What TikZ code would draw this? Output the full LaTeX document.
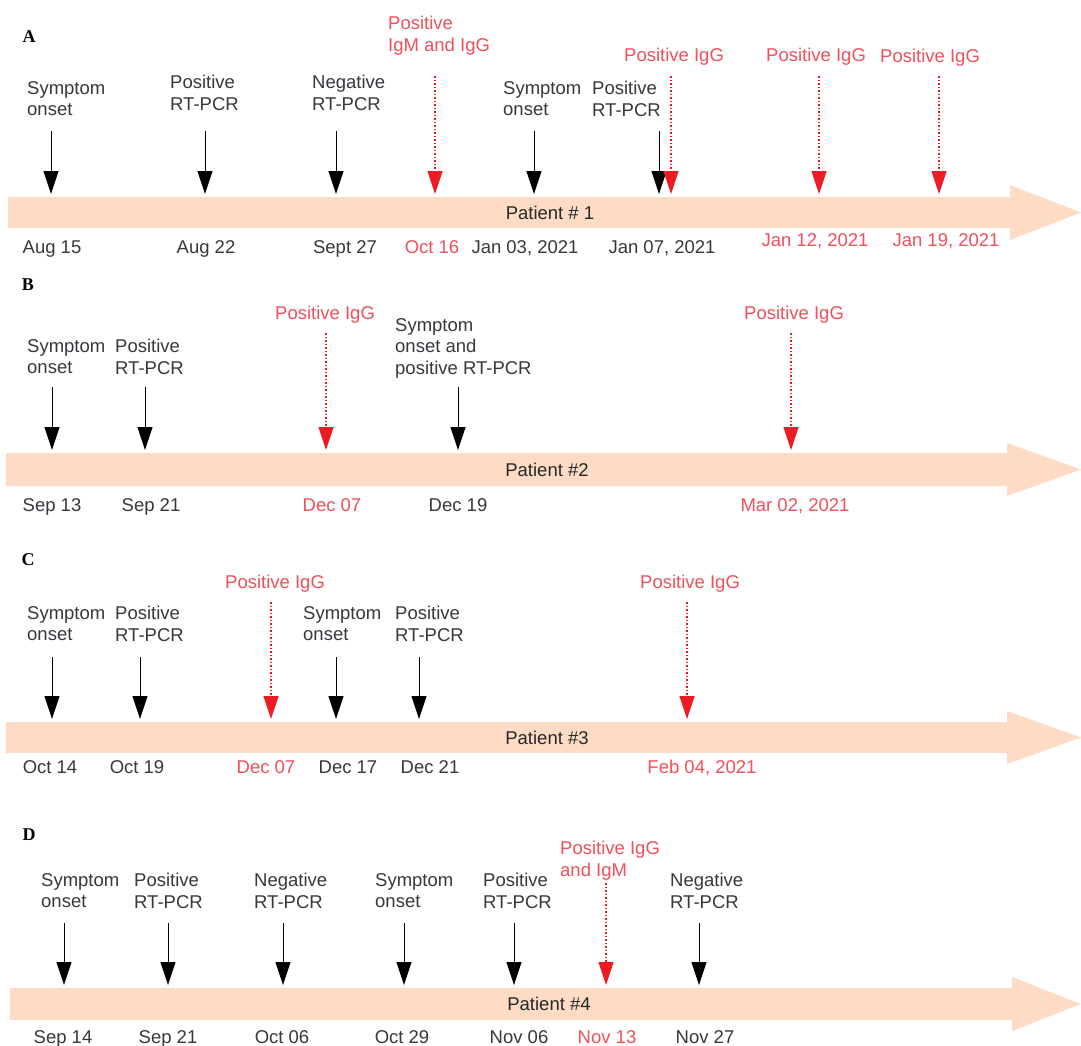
\documentclass[tikz,border=0pt]{standalone}
\usepackage{fontspec}
\setmainfont{Liberation Sans}
\newfontfamily\panelfont{Liberation Serif}
\usetikzlibrary{arrows.meta}
\definecolor{bandcol}{RGB}{253,219,196}
\definecolor{evred}{RGB}{237,28,36}
\definecolor{txtred}{RGB}{240,80,90}
\definecolor{txtgray}{RGB}{58,54,62}
\definecolor{ptxt}{RGB}{40,40,40}
\newcommand\evarrow[5]{%
  \coordinate (#1s) at (#3,#4);
  \coordinate (#1e) at (#3,#5);
  \draw[#2] (#1s) -- (#1e);}
\newcommand\tlband[5]{% left, top, bottom, headstart, head overhang
  \fill[bandcol] (#1,#2) -- (#4,#2) -- (#4,#2-#5) -- (1081,{(#2+#3)/2}) -- (#4,#3+#5) -- (#4,#3) -- (#1,#3) -- cycle;}
\begin{document}
\begin{tikzpicture}[x=1pt,y=-1pt,
  lbl/.style={anchor=north west, inner sep=0pt, align=left, text=txtgray, font=\fontsize{18.5}{21.5}\selectfont},
  rlbl/.style={lbl, text=txtred},
  datelbl/.style={anchor=north, inner sep=0pt, text=txtgray, font=\fontsize{18.5}{21.5}\selectfont},
  rdatelbl/.style={datelbl, text=txtred},
  plabel/.style={inner sep=0pt, text=ptxt, font=\fontsize{18.5}{21.5}\selectfont},
  panel/.style={inner sep=0pt, text=black, font=\fontsize{18}{20}\selectfont\panelfont\bfseries},
  blkarr/.style={draw=black, line width=0.8pt, -{Triangle[width=15pt,length=23pt]}},
  redarr/.style={draw=evred, line width=1.2pt, dash pattern=on 1.5pt off 2pt, -{Triangle[width=15pt,length=23pt]}}
]
\fill[white] (0,0) rectangle (1081,1045);
\useasboundingbox (0,0) rectangle (1081,1045);

% ---------------- Panel A ----------------
\node[panel] (lA) at (29,37) {A};
\tlband{8}{197}{228}{1010}{12}
\node[plabel] (pA) at (550,212.5) {Patient \# 1};
\evarrow{a1}{blkarr}{51}{131}{194}
\evarrow{a2}{blkarr}{205}{131}{194}
\evarrow{a3}{blkarr}{336}{131}{194}
\evarrow{a4}{redarr}{435}{76}{194}
\evarrow{a5}{blkarr}{534}{131}{194}
\evarrow{a6}{blkarr}{659}{131}{194}
\evarrow{a7}{redarr}{671}{76}{194}
\evarrow{a8}{redarr}{819}{76}{194}
\evarrow{a9}{redarr}{939}{76}{194}
\node[lbl] (ta1) at (27,81.3) {Symptom\\onset};
\node[lbl] (ta2) at (170,75.3) {Positive\\RT-PCR};
\node[lbl] (ta3) at (312,75.3) {Negative\\RT-PCR};
\node[rlbl] (ta4) at (388,16.3) {Positive\\IgM and IgG};
\node[lbl] (ta5) at (503,81.3) {Symptom\\onset};
\node[lbl] (ta6) at (592,81.3) {Positive\\RT-PCR};
\node[rlbl] (ta7) at (624,48) {Positive IgG};
\node[rlbl] (ta8) at (766,48) {Positive IgG};
\node[rlbl] (ta9) at (880,49) {Positive IgG};
\node[datelbl] (da1) at (52,240.3) {Aug 15};
\node[datelbl] (da2) at (206,240.3) {Aug 22};
\node[datelbl] (da3) at (345,240.3) {Sept 27};
\node[rdatelbl] (da4) at (432,240.3) {Oct 16};
\node[datelbl] (da5) at (525,240.3) {Jan 03, 2021};
\node[datelbl] (da6) at (662,240.3) {Jan 07, 2021};
\node[rdatelbl] (da7) at (815,233.3) {Jan 12, 2021};
\node[rdatelbl] (da8) at (946,233.3) {Jan 19, 2021};

% ---------------- Panel B ----------------
\node[panel] (lB) at (28,285) {B};
\tlband{6}{453}{486}{1007}{10}
\node[plabel] (pB) at (547,470) {Patient \#2};
\evarrow{b1}{blkarr}{52}{387}{450}
\evarrow{b2}{blkarr}{145}{387}{450}
\evarrow{b3}{redarr}{326}{333}{450}
\evarrow{b4}{blkarr}{458}{387}{450}
\evarrow{b5}{redarr}{791}{333}{450}
\node[lbl] (tb1) at (27,339.3) {Symptom\\onset};
\node[lbl] (tb2) at (115,339.3) {Positive\\RT-PCR};
\node[rlbl] (tb3) at (275,306.3) {Positive IgG};
\node[lbl] (tb4) at (395,318.3) {Symptom\\onset and\\positive RT-PCR};
\node[rlbl] (tb5) at (744,306.3) {Positive IgG};
\node[datelbl] (db1) at (52,498.3) {Sep 13};
\node[datelbl] (db2) at (151,498.3) {Sep 21};
\node[rdatelbl] (db3) at (332,498.3) {Dec 07};
\node[datelbl] (db4) at (458,498.3) {Dec 19};
\node[rdatelbl] (db5) at (795,498.3) {Mar 02, 2021};

% ---------------- Panel C ----------------
\node[panel] (lC) at (28,560) {C};
\tlband{6}{722}{753}{1007}{11}
\node[plabel] (pC) at (547,738) {Patient \#3};
\evarrow{c1}{blkarr}{52}{657}{719}
\evarrow{c2}{blkarr}{140}{657}{719}
\evarrow{c3}{redarr}{271}{602}{719}
\evarrow{c4}{blkarr}{336}{657}{719}
\evarrow{c5}{blkarr}{419}{657}{719}
\evarrow{c6}{redarr}{687}{602}{719}
\node[lbl] (tc1) at (27,606.3) {Symptom\\onset};
\node[lbl] (tc2) at (115,606.3) {Positive\\RT-PCR};
\node[rlbl] (tc3) at (225,575.3) {Positive IgG};
\node[lbl] (tc4) at (303,606.3) {Symptom\\onset};
\node[lbl] (tc5) at (395,606.3) {Positive\\RT-PCR};
\node[rlbl] (tc6) at (640,575.3) {Positive IgG};
\node[datelbl] (dc1) at (50,760.3) {Oct 14};
\node[datelbl] (dc2) at (137,760.3) {Oct 19};
\node[rdatelbl] (dc3) at (266,760.3) {Dec 07};
\node[datelbl] (dc4) at (348,760.3) {Dec 17};
\node[datelbl] (dc5) at (430,760.3) {Dec 21};
\node[rdatelbl] (dc6) at (702,760.3) {Feb 04, 2021};

% ---------------- Panel D ----------------
\node[panel] (lD) at (29,835) {D};
\tlband{10}{988}{1020}{1012}{11}
\node[plabel] (pD) at (549,1004) {Patient \#4};
\evarrow{d1}{blkarr}{64}{923}{985}
\evarrow{d2}{blkarr}{168}{923}{985}
\evarrow{d3}{blkarr}{283}{923}{985}
\evarrow{d4}{blkarr}{404}{923}{985}
\evarrow{d5}{blkarr}{514}{923}{985}
\evarrow{d6}{redarr}{606}{883}{985}
\evarrow{d7}{blkarr}{699}{923}{985}
\node[lbl] (td1) at (41,873.3) {Symptom\\onset};
\node[lbl] (td2) at (134,873.3) {Positive\\RT-PCR};
\node[lbl] (td3) at (254,873.3) {Negative\\RT-PCR};
\node[lbl] (td4) at (375,873.3) {Symptom\\onset};
\node[lbl] (td5) at (483,873.3) {Positive\\RT-PCR};
\node[rlbl] (td6) at (560,841.3) {Positive IgG\\and IgM};
\node[lbl] (td7) at (670,873.3) {Negative\\RT-PCR};
\node[datelbl] (dd1) at (63,1030.5) {Sep 14};
\node[datelbl] (dd2) at (168,1030.5) {Sep 21};
\node[datelbl] (dd3) at (282,1030.5) {Oct 06};
\node[datelbl] (dd4) at (402,1030.5) {Oct 29};
\node[datelbl] (dd5) at (519,1030.5) {Nov 06};
\node[rdatelbl] (dd6) at (607,1030.5) {Nov 13};
\node[datelbl] (dd7) at (705,1030.5) {Nov 27};
\end{tikzpicture}
\end{document}
